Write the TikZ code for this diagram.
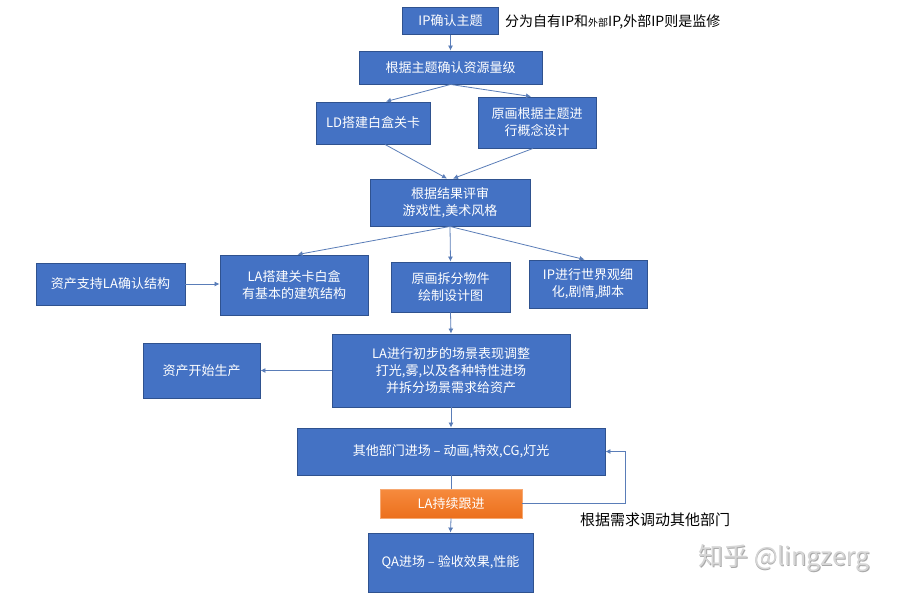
\documentclass[tikz,border=0pt]{standalone}
\usepackage{fontspec}
\setmainfont{Noto Sans CJK SC}
\usetikzlibrary{arrows.meta,calc}
\definecolor{boxblue}{HTML}{4472C4}
\definecolor{boxedge}{HTML}{2F528F}
\definecolor{linkblue}{HTML}{5A7DB8}
\definecolor{orgtop}{HTML}{F68B3E}
\definecolor{orgbot}{HTML}{EC6F1C}
\definecolor{orgedge}{HTML}{F6A871}
\definecolor{wmgray}{HTML}{D6D6D6}
\definecolor{wmshade}{HTML}{A9A9A9}
\begin{document}
\begin{tikzpicture}[x=1pt,y=-1pt,
 box/.style={draw=boxedge,line width=0.9pt,fill=boxblue,text=white,align=center,inner sep=0pt,font=\fontsize{13}{17}\selectfont},
 wh/.style 2 args={minimum width=#1pt,minimum height=#2pt},
 link/.style={draw=linkblue,line width=0.8pt,-{Latex[length=5pt,width=5pt]}},
 plainlink/.style={draw=linkblue,line width=0.8pt},
 obox/.style={draw=orgedge,line width=0.9pt,top color=orgtop,bottom color=orgbot,text=white,inner sep=0pt,font=\fontsize{13}{17}\selectfont},
 note/.style={text=black,inner sep=0pt,font=\fontsize{14}{17}\selectfont},
 wmark/.style={inner sep=0pt,font=\fontsize{25}{29}\selectfont}]
\fill[white] (0,0) rectangle (900,598);
\useasboundingbox (0,0) rectangle (900,598);

\node[box,wh={96}{27}] (n1) at (450.5,21) {IP确认主题};
\node[note,anchor=west] (l1) at (505,22) {分为自有IP和{\fontsize{10}{12}\selectfont 外部}IP,外部IP则是监修};
\node[box,wh={183}{33}] (n2) at (450.5,67.5) {根据主题确认资源量级};
\node[box,wh={114}{42}] (n3) at (373,123) {LD搭建白盒关卡};
\node[box,wh={118}{51}] (n4) at (537,122.5) {原画根据主题进\\行概念设计};
\node[box,wh={160}{47}] (n5) at (450,202.5) {根据结果评审\\游戏性,美术风格};
\node[box,wh={149}{42}] (n6) at (110.5,284) {资产支持LA确认结构};
\node[box,wh={148}{60}] (n7) at (294,285) {LA搭建关卡白盒\\有基本的建筑结构};
\node[box,wh={119}{50}] (n8) at (450.5,287) {原画拆分物件\\绘制设计图};
\node[box,wh={118}{48}] (n9) at (588,284) {IP进行世界观细\\化,剧情,脚本};
\node[box,wh={238}{73}] (n10) at (451,370.5) {LA进行初步的场景表现调整\\打光,雾,以及各种特性进场\\并拆分场景需求给资产};
\node[box,wh={117}{55}] (n11) at (201.5,370.5) {资产开始生产};
\node[box,wh={308}{47}] (n12) at (451,451.5) {其他部门进场 – 动画,特效,CG,灯光};
\node[obox,wh={142}{29}] (n13) at (451,503.5) {LA持续跟进};
\node[box,wh={165}{59}] (n14) at (450.5,562.5) {QA进场 – 验收效果,性能};
\node[note,font=\fontsize{15}{18}\selectfont] (l2) at (655,520) {根据需求调动其他部门};
\node[wmark,text=wmshade] (wm0) at (784.8,558.8) {知乎 @lingzerg};
\node[wmark,text=wmgray] (wm) at (784,558) {知乎 @lingzerg};

\draw[link] (n1.south) -- (n2.north);
\draw[link] (n2.south) -- ($(n3.north)+(13,0)$);
\draw[link] (n2.south) -- ($(n4.north)+(-6,0)$);
\draw[link] ($(n3.south)+(12,0)$) -- ($(n5.north)+(-3,0)$);
\draw[link] ($(n4.south)+(-4,0)$) -- ($(n5.north)+(3,0)$);
\draw[link] (n5.south) -- ($(n7.north)+(3.5,0)$);
\draw[link] (n5.south) -- (n8.north);
\draw[link] (n5.south) -- ($(n9.north)+(-3.5,0)$);
\draw[link] (n6.east) -- (n7.west |- n6.east);
\draw[link] (n8.south) -- (n10.north);
\draw[link] (n10.west) -- (n11.east);
\draw[link] (n10.south) -- (n12.north);
\draw[plainlink] (n12.south) -- (n13.north);
\draw[link] (n13.south) -- (n14.north);
\draw[link] (n13.east) -- ++(103,0) |- (n12.east);
\end{tikzpicture}
\end{document}
